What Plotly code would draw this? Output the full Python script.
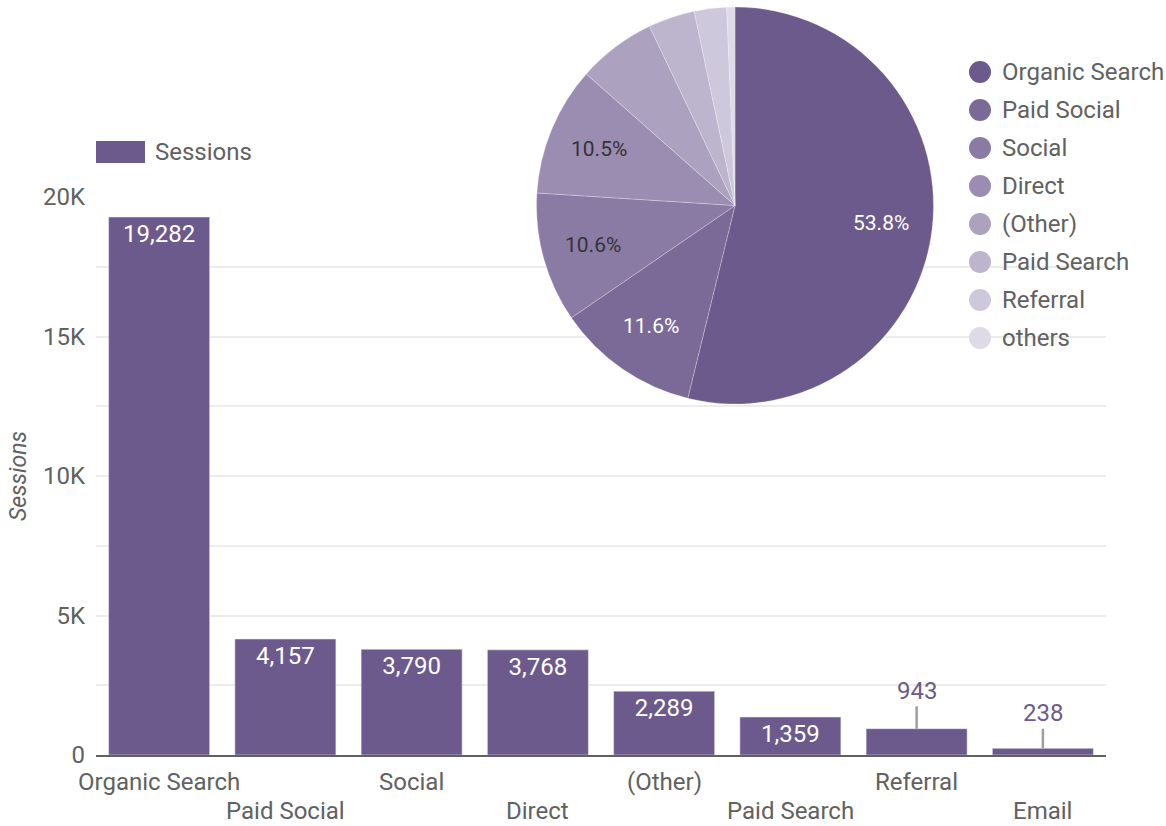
import math
import plotly.graph_objects as go

categories = ["Organic Search", "Paid Social", "Social", "Direct", "(Other)", "Paid Search", "Referral", "Email"]
sessions = [19282, 4157, 3790, 3768, 2289, 1359, 943, 238]
pie_labels = ["Organic Search", "Paid Social", "Social", "Direct", "(Other)", "Paid Search", "Referral", "others"]
pie_values = [19282, 4157, 3790, 3768, 2289, 1359, 943, 238]
y_ticks = [0, 2500, 5000, 7500, 10000, 12500, 15000, 17500, 20000]
y_ticktext = ["0", "", "5K", "", "10K", "", "15K", "", "20K"]

W, H = 1166, 826
FONT = "Roboto"
GRAY = "#616161"
BAR = "#6c5a8c"
pie_colors = ["#6c5a8c", "#7b6a98", "#8a7ba5", "#9b8db2", "#aca2c0", "#bdb4cd", "#cec8dc", "#dedae8"]

def px(x):
    return x / W

def py(y):
    return 1 - y / H

fig = go.Figure()

bar_text = [f"{v:,}" if v >= 1000 else "" for v in sessions]
fig.add_trace(go.Bar(
    x=categories, y=sessions, marker_color=BAR, text=bar_text,
    textposition="inside", insidetextanchor="end",
    textfont=dict(color="white", size=24, family=FONT),
    showlegend=False, cliponaxis=False,
))

# pie geometry (pixels)
PCX, PCY, PR = 735, 205.5, 198.5
fig.add_trace(go.Pie(
    labels=pie_labels, values=pie_values, sort=False, direction="clockwise", rotation=0,
    marker=dict(colors=pie_colors, line=dict(color="rgba(255,255,255,0.5)", width=0.5)),
    textinfo="none",
    domain=dict(x=[px(PCX - PR), px(PCX + PR)], y=[py(PCY + PR), py(PCY - PR)]),
    showlegend=False, hoverinfo="label+value+percent",
))

annotations = []
shapes = []

# pie percentage labels (only for slices >= 10%), placed along each slice's mid-angle
total = sum(pie_values)
cum = 0
for i, v in enumerate(pie_values):
    frac = v / total
    mid = (cum + frac / 2) * 2 * math.pi
    cum += frac
    if frac >= 0.1:
        r = 0.74 * PR
        tx = PCX + r * math.sin(mid)
        ty = PCY - r * math.cos(mid)
        annotations.append(dict(
            x=px(tx), y=py(ty), xref="paper", yref="paper", text=f"{frac * 100:.1f}%",
            showarrow=False, xanchor="center", yanchor="middle",
            font=dict(color="white" if i < 2 else "#333333", size=21, family=FONT),
        ))

# outside labels for small bars with leader lines
for c, v in zip(categories, sessions):
    if v < 1000:
        annotations.append(dict(
            x=c, y=v, xref="x", yref="y", text=f"{v:,}", showarrow=True,
            arrowhead=0, arrowwidth=2.5, arrowcolor="#9e9e9e", ax=0, ay=-38 if v > 500 else -35,
            standoff=0, font=dict(color=BAR, size=24, family=FONT),
        ))

# staggered category labels
for i, c in enumerate(categories):
    annotations.append(dict(
        x=c, xref="x", y=py(782) if i % 2 == 0 else py(811), yref="paper",
        text=c, showarrow=False, xanchor="center", yanchor="middle", borderpad=0,
        font=dict(color=GRAY, size=24, family=FONT),
    ))

# bar legend
shapes.append(dict(type="rect", xref="paper", yref="paper", x0=px(96), x1=px(145),
                   y0=py(163), y1=py(141), fillcolor=BAR, line=dict(width=0)))
annotations.append(dict(x=px(153), y=py(152), xref="paper", yref="paper", text="Sessions",
                        showarrow=False, xanchor="left", yanchor="middle",
                        font=dict(color=GRAY, size=24, family=FONT)))

# pie legend
for i, (lab, col) in enumerate(zip(pie_labels, pie_colors)):
    cy = 72 + 38 * i
    shapes.append(dict(type="circle", xref="paper", yref="paper",
                       x0=px(969), x1=px(991), y0=py(cy + 11), y1=py(cy - 11),
                       fillcolor=col, line=dict(width=0), layer="above"))
    annotations.append(dict(x=px(1000), y=py(cy), xref="paper", yref="paper", text=lab,
                            showarrow=False, xanchor="left", yanchor="middle",
                            font=dict(color=GRAY, size=24, family=FONT)))

fig.update_layout(
    width=W, height=H, margin=dict(l=0, r=0, t=0, b=0, pad=0, autoexpand=False),
    paper_bgcolor="white", plot_bgcolor="white",
    font=dict(family=FONT, color=GRAY, size=24),
    bargap=0.2, showlegend=False,
    xaxis=dict(domain=[px(96), px(1106)], range=[-0.5, len(categories) - 0.5],
               showticklabels=False, showgrid=False, automargin=False,
               showline=True, linecolor=GRAY, linewidth=2, ticks=""),
    yaxis=dict(domain=[py(755), py(197)], range=[0, 20000], tickvals=y_ticks, ticktext=y_ticktext,
               showgrid=True, gridcolor="#ececec", gridwidth=2, zeroline=False, automargin=False,
               tickfont=dict(size=24, color=GRAY, family=FONT), ticklabelstandoff=10,
               title=dict(text="<i>Sessions</i>", font=dict(size=23, color=GRAY, family=FONT), standoff=9)),
    annotations=annotations, shapes=shapes,
)

fig.write_html("out.html")
